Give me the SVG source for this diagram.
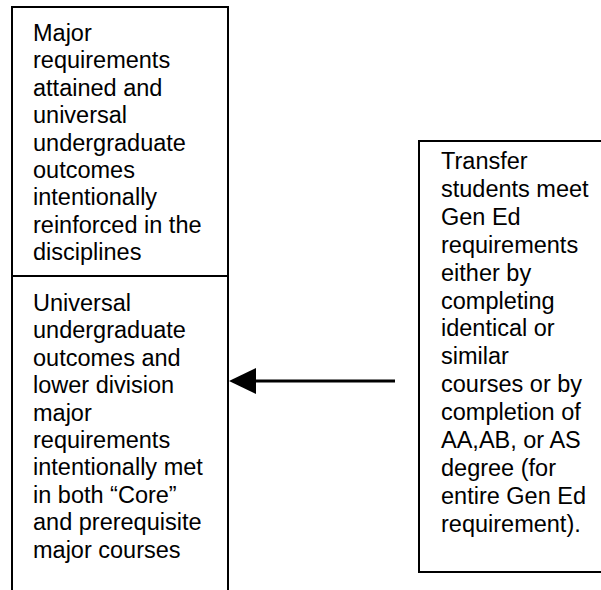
<svg xmlns="http://www.w3.org/2000/svg" width="601" height="590" viewBox="0 0 601 590">
<style>
.box{fill:#fff;stroke:#000;stroke-width:2}
.t{font-family:"Liberation Sans",Arial,sans-serif;font-size:23.5px;fill:#000}
</style>
<rect width="601" height="590" fill="#fff"/>
<g id="upper">
<rect class="box" x="12" y="7" width="216" height="600"/>
<text class="t" x="33" y="41">
<tspan x="33" y="41">Major</tspan>
<tspan x="33" y="68.4">requirements</tspan>
<tspan x="33" y="95.8">attained and</tspan>
<tspan x="33" y="123.2">universal</tspan>
<tspan x="33" y="150.6">undergraduate</tspan>
<tspan x="33" y="178">outcomes</tspan>
<tspan x="33" y="205.4">intentionally</tspan>
<tspan x="33" y="232.8">reinforced in the</tspan>
<tspan x="33" y="260.2">disciplines</tspan>
</text>
</g>
<g id="lower">
<line x1="12" y1="276" x2="228" y2="276" stroke="#000" stroke-width="2"/>
<text class="t" x="33" y="311">
<tspan x="33" y="311">Universal</tspan>
<tspan x="33" y="338.4">undergraduate</tspan>
<tspan x="33" y="365.8">outcomes and</tspan>
<tspan x="33" y="393.2">lower division</tspan>
<tspan x="33" y="420.6">major</tspan>
<tspan x="33" y="448">requirements</tspan>
<tspan x="33" y="475.4">intentionally met</tspan>
<tspan x="33" y="502.8">in both “Core”</tspan>
<tspan x="33" y="530.2">and prerequisite</tspan>
<tspan x="33" y="557.6">major courses</tspan>
</text>
</g>
<g id="transfer">
<rect class="box" x="419" y="141" width="200" height="431"/>
<text class="t">
<tspan x="441" y="169">Transfer</tspan>
<tspan x="441" y="196.9">students meet</tspan>
<tspan x="441" y="224.8">Gen Ed</tspan>
<tspan x="441" y="252.7">requirements</tspan>
<tspan x="441" y="280.6">either by</tspan>
<tspan x="441" y="308.5">completing</tspan>
<tspan x="441" y="336.4">identical or</tspan>
<tspan x="441" y="364.3">similar</tspan>
<tspan x="441" y="392.2">courses or by</tspan>
<tspan x="441" y="420.1">completion of</tspan>
<tspan x="441" y="448">AA,AB, or AS</tspan>
<tspan x="441" y="475.9">degree (for</tspan>
<tspan x="441" y="503.8">entire Gen Ed</tspan>
<tspan x="441" y="531.7">requirement).</tspan>
</text>
</g>
<g id="connectors">
<line x1="395" y1="381" x2="254" y2="381" stroke="#000" stroke-width="3"/>
<polygon points="229,381 256,368 256,394" fill="#000"/>
</g>
</svg>
